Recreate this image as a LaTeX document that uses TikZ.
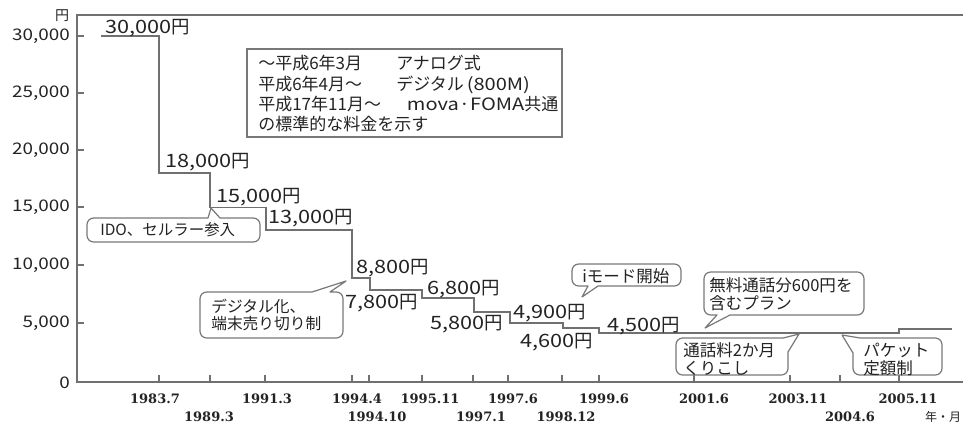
\documentclass[tikz,border=0pt]{standalone}
\usepackage{fontspec}
\setmainfont{Noto Sans CJK JP}
\newfontfamily\numfont{Noto Sans CJK JP}[FakeStretch=1.18]
\newfontfamily\axisfont{DejaVu Serif}
\definecolor{linegray}{RGB}{112,112,112}
\definecolor{boxgray}{RGB}{120,120,120}
\definecolor{txt}{RGB}{35,35,35}
\begin{document}
\begin{tikzpicture}[x=0.75pt,y=-0.75pt,
  axisline/.style={draw=linegray, line width=1.5pt},
  stepline/.style={draw=linegray, line width=1.1pt},
  tickline/.style={draw=linegray, line width=1pt},
  bubble/.style={draw=boxgray, line width=0.9pt, fill=white, line join=round},
  price/.style={font=\fontsize{13.8}{16}\selectfont, text=txt, inner sep=0pt, anchor=west},
  ylab/.style={font=\numfont\fontsize{12}{14}\selectfont, text=txt, inner sep=0pt, anchor=east},
  xlab/.style={font=\axisfont\bfseries\fontsize{9.75}{11}\selectfont, text=txt, inner sep=0pt},
  call/.style={font=\fontsize{12.4}{13.5}\selectfont, text=txt, inner sep=0pt, anchor=west, align=left},
  legtext/.style={font=\fontsize{12.75}{14.5}\selectfont, text=txt, inner sep=0pt, anchor=west, align=left}
]
\useasboundingbox (0,0) rectangle (963,425);

% axes and frame
\draw[axisline] (963,15) -- (77,15) -- (77,382) -- (963,382);

% y ticks and labels
\foreach \yy/\lab/\nm in {36/30{,}000/ya,93/25{,}000/yb,150/20{,}000/yc,207/15{,}000/yd,265/10{,}000/ye,323/5{,}000/yf}{
  \draw[tickline] (77,\yy) -- (84,\yy);
  \node[ylab] (\nm) at (70,\yy) {\lab};
}
\node[ylab] (yzero) at (70,383) {0};
\node[font=\fontsize{10.5}{12}\selectfont, text=txt, inner sep=0pt] (yen) at (62,16) {円};

% x ticks
\foreach \xx in {159,210,265,352,369,422,473,508,562,599,694,790,840,899}{
  \draw[tickline] (\xx,382) -- (\xx,375);
}
% x labels
\node[xlab] (x1) at (155,399) {1983.7};
\node[xlab] (x2) at (267,399) {1991.3};
\node[xlab] (x3) at (357,399) {1994.4};
\node[xlab] (x4) at (430,399) {1995.11};
\node[xlab] (x5) at (513,399) {1997.6};
\node[xlab] (x6) at (604,399) {1999.6};
\node[xlab] (x7) at (704,399) {2001.6};
\node[xlab] (x8) at (798,399) {2003.11};
\node[xlab] (x9) at (908,399) {2005.11};
\node[xlab] (x10) at (209,417) {1989.3};
\node[xlab] (x11) at (377,417) {1994.10};
\node[xlab] (x12) at (481,417) {1997.1};
\node[xlab] (x13) at (566,417) {1998.12};
\node[xlab] (x14) at (850,417) {2004.6};
\node[font=\fontsize{9}{11}\selectfont, text=txt, inner sep=0pt] (unit) at (943,417) {年・月};

% price step line
\draw[stepline] (101,36) -- (159,36) -- (159,173) -- (210,173) -- (210,207.5) -- (266,207.5)
  -- (266,230) -- (352,230) -- (352,278) -- (370,278) -- (370,290) -- (422,290)
  -- (422,298) -- (474,298) -- (474,312) -- (510,312) -- (510,323) -- (563,323)
  -- (563,328) -- (599,328) -- (599,333) -- (899,333) -- (899,329) -- (952,329);

% price labels
\node[price] (p30) at (105,28.5) {{\numfont 30,000}円};
\node[price] (p18) at (165,162) {{\numfont 18,000}円};
\node[price] (p15) at (216,197) {{\numfont 15,000}円};
\node[price] (p13) at (268,218) {{\numfont 13,000}円};
\node[price] (p88) at (356,268) {{\numfont 8,800}円};
\node[price] (p78) at (345,303) {{\numfont 7,800}円};
\node[price] (p68) at (427,289) {{\numfont 6,800}円};
\node[price] (p58) at (430,324) {{\numfont 5,800}円};
\node[price] (p49) at (513,313) {{\numfont 4,900}円};
\node[price] (p46) at (520,342) {{\numfont 4,600}円};
\node[price] (p45) at (607,326) {{\numfont 4,500}円};

% legend box
\draw[draw=boxgray, line width=0.9pt] (247,49) rectangle (562,137);
\node[legtext] (legend) at (258,96) {%
\begin{tabular}{@{}p{103.5pt}@{}l@{}}
〜平成6年3月 & アナログ式\\
平成6年4月〜 & デジタル{\numfont\,(800M)}\\
平成17年11月〜 & \hspace{8pt}{\numfont mova·FOMA}共通\\
\multicolumn{2}{@{}l@{}}{の標準的な料金を示す}
\end{tabular}};

% callout bubbles
\draw[bubble] (208,218) -- (211,208) -- (220,218) {[rounded corners=5pt] -- (260,218) -- (260,242) -- (87,242) -- (87,218)} -- cycle;
\node[call, font=\fontsize{11.6}{13}\selectfont] (ido) at (100,230) {IDO、セルラー参入};

\draw[bubble] (312,292) -- (346,281) -- (330,292) {[rounded corners=5pt] -- (343,292) -- (343,338) -- (200,338) -- (200,292)} -- cycle;
\node[call, font=\fontsize{11.8}{12.5}\selectfont] (digi) at (211,315) {デジタル化、\\端末売り切り制};

\draw[bubble] (588,286) -- (582,297) -- (598,286) {[rounded corners=5pt] -- (681,286) -- (681,264) -- (572,264) -- (572,286)} -- cycle;
\node[call] (imode) at (582,276) {iモード開始};

\draw[bubble] (717,315) -- (705,328) -- (730,315) {[rounded corners=5pt] -- (864,315) -- (864,272) -- (704,272) -- (704,315)} -- cycle;
\node[call] (free) at (709,294) {無料通話分600円を\\含むプラン};

\draw[bubble] (783,338) -- (799,334) -- (788,352) {[rounded corners=5pt] -- (788,375) -- (676,375) -- (676,338)} -- cycle;
\node[call] (carry) at (683,359) {通話料2か月\\くりこし};

\draw[bubble] (860,338) -- (842,335) -- (853,353) {[rounded corners=5pt] -- (853,375) -- (942,375) -- (942,338)} -- cycle;
\node[call] (packet) at (863,359) {パケット\\定額制};
\end{tikzpicture}
\end{document}
